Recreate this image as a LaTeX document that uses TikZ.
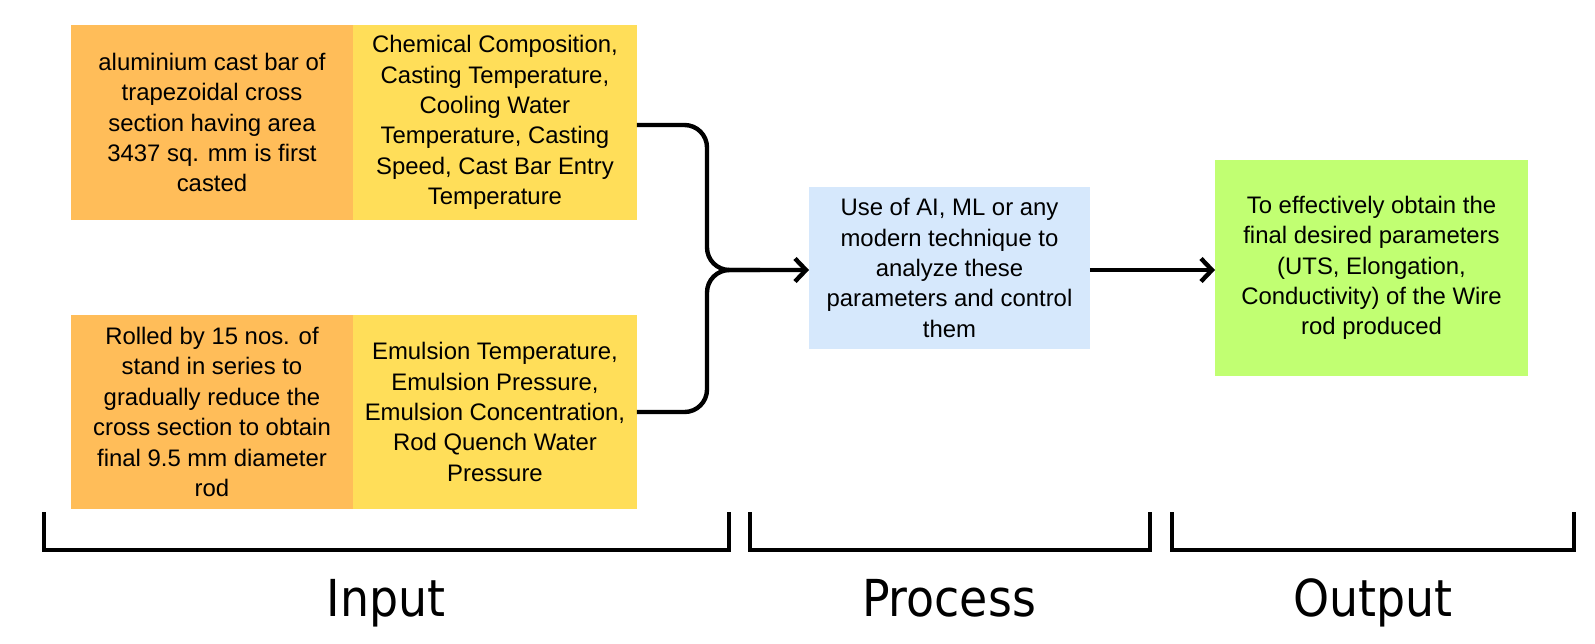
\documentclass[tikz,border=0pt]{standalone}
\usepackage{fontspec}
\setmainfont{Liberation Sans}
\newfontfamily\labelfont{DejaVu Sans Condensed}
\usetikzlibrary{positioning,arrows.meta}
\definecolor{pgOrange}{RGB}{255,189,89}
\definecolor{pgYellow}{RGB}{255,222,89}
\definecolor{pgBlue}{RGB}{214,232,252}
\definecolor{pgGreen}{RGB}{193,255,114}
\tikzset{
    base/.style={font=\fontsize{13.6}{17.3}\selectfont, align=center, inner sep=0pt, outer sep=0pt},
    stage/.style={base, rectangle, fill=pgOrange, minimum width=5.64cm, minimum height=3.9cm},
    param/.style={base, rectangle, fill=pgYellow, minimum width=5.68cm, minimum height=3.9cm},
    engine/.style={base, rectangle, fill=pgBlue, minimum width=5.62cm, minimum height=3.26cm},
    result/.style={base, rectangle, fill=pgGreen, minimum width=6.26cm, minimum height=4.32cm},
    flow/.style={-{Straight Barb[length=2.2mm,width=4.6mm,line width=2.5pt]}, line width=2.5pt, rounded corners=0.45cm},
    brace/.style={line width=2pt},
    phase/.style={font=\labelfont\fontsize{29}{32}\selectfont, anchor=base, inner sep=0pt}
}

\begin{document}
\begin{tikzpicture}[x=0.02cm, y=-0.02cm]
    \useasboundingbox (0,0) rectangle (1595,643);

    % Input boxes
    \node[stage] (cast) at (212,122.5) {aluminium cast bar of\\trapezoidal cross\\section having area\\3437 sq. mm is first\\casted};
    \node[param, right=0pt of cast] (castpar) {Chemical Composition,\\Casting Temperature,\\Cooling Water\\Temperature, Casting\\Speed, Cast Bar Entry\\Temperature};
    \node[stage] (roll) at (212,412) {Rolled by 15 nos. of\\stand in series to\\gradually reduce the\\cross section to obtain\\final 9.5 mm diameter\\rod};
    \node[param, right=0pt of roll] (rollpar) {Emulsion Temperature,\\Emulsion Pressure,\\Emulsion Concentration,\\Rod Quench Water\\Pressure};

    % Process and output
    \node[engine] (ai) at (949.5,268) {Use of AI, ML or any\\modern technique to\\analyze these\\parameters and control\\them};
    \node[result] (goal) at (1371.5,268) {To effectively obtain the\\final desired parameters\\(UTS, Elongation,\\Conductivity) of the Wire\\rod produced};

    % Merging connector
    \coordinate (join) at (707,270);
    \draw[flow] (castpar.east |- 0,125) -- (707,125) -- (join) -- (ai.west |- join);
    \draw[line width=2.5pt, rounded corners=0.45cm] (rollpar.east |- 0,412) -- (707,412) -- (join) -- (760,270);
    \draw[flow] (ai.east |- join) -- (goal.west |- join);

    % Brackets
    \draw[brace] (44,512) |- (729,550) -- (729,512);
    \draw[brace] (750,512) |- (1150,550) -- (1150,512);
    \draw[brace] (1172,512) |- (1574,550) -- (1574,512);

    % Phase labels
    \node[phase] (inp) at (386,616) {Input};
    \node[phase] (proc) at (949,616) {Process};
    \node[phase] (outp) at (1373,616) {Output};
\end{tikzpicture}
\end{document}
